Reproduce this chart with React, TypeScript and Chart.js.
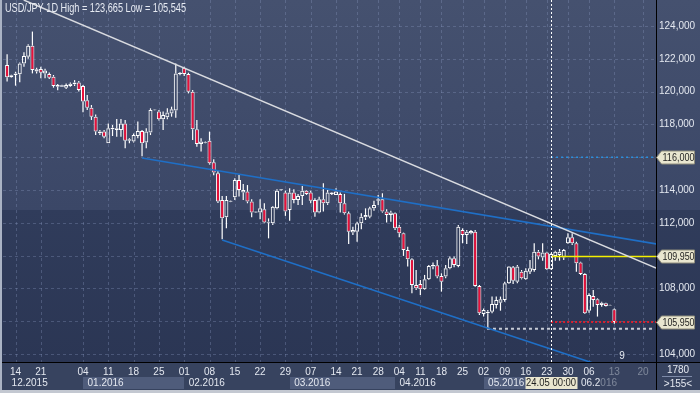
import React, { useEffect, useRef } from "react";
import { Chart, registerables } from "chart.js";

Chart.register(...registerables);

const FONT = "'Liberation Sans', Arial, sans-serif";

// ---- OHLC data (daily bars, index 0..144) ----
const opens = [
  121.62, 120.87, 121.01, 121.05, 121.72, 122.13, 122.8, 121.22, 121.38, 121.11,
  121.07, 120.91, 120.3, 120.3, 120.24, 120.34, 120.44, 120.56, 120.34, 119.47,
  119.02, 118.47, 117.46, 117.56, 116.85, 117.7, 117.66, 117.66, 118.06, 117.0,
  116.95, 117.29, 117.6, 116.89, 117.5, 118.86, 118.78, 118.31, 118.43, 118.67,
  118.84, 121.07, 121.46, 121.07, 119.99, 117.7, 116.8, 116.88, 117.0, 115.69,
  115.02, 113.39, 112.33, 113.28, 113.55, 114.61, 113.84, 113.9, 113.29, 112.62,
  112.62, 112.82, 112.0, 111.97, 112.88, 113.98, 113.84, 112.78, 113.84, 113.39,
  113.63, 113.96, 113.84, 113.39, 112.62, 113.43, 113.19, 113.76, 113.7, 113.76,
  113.19, 112.58, 111.4, 111.46, 111.97, 112.33, 112.37, 112.88, 113.35, 113.43,
  112.68, 112.48, 112.58, 111.76, 111.36, 110.34, 109.77, 108.21, 108.27, 107.94,
  108.55, 109.33, 109.41, 108.76, 108.72, 109.22, 109.83, 109.37, 111.56, 111.26,
  111.36, 111.46, 108.15, 106.44, 106.48, 106.58, 106.99, 107.13, 107.29, 108.31,
  109.29, 108.41, 109.02, 108.55, 109.02, 109.12, 110.24, 109.89, 110.18, 109.16,
  109.98, 110.04, 109.89, 110.75, 111.11, 110.75, 109.57, 108.88, 106.64, 107.54,
  107.33, 106.99, 107.09, 106.95, 106.72,
];
const highs = [
  122.27, 121.02, 121.21, 121.78, 122.4, 122.88, 123.66, 121.46, 121.52, 121.4,
  121.17, 121.01, 120.46, 120.42, 120.5, 120.56, 120.7, 120.65, 120.4, 119.79,
  119.18, 118.6, 117.66, 117.66, 118.06, 117.96, 118.33, 118.33, 118.27, 117.15,
  117.45, 118.17, 117.66, 117.76, 118.98, 118.92, 118.88, 118.78, 118.98, 119.08,
  121.72, 121.2, 121.52, 121.15, 120.1, 118.27, 117.15, 116.95, 117.56, 115.87,
  115.22, 113.63, 113.63, 113.36, 114.71, 114.91, 114.37, 114.3, 113.43, 112.7,
  113.43, 113.19, 112.27, 113.02, 114.04, 114.06, 113.96, 114.1, 114.04, 113.76,
  114.24, 114.0, 113.96, 113.49, 113.59, 114.41, 114.0, 113.88, 114.1, 113.84,
  113.76, 112.68, 111.76, 112.07, 112.58, 112.88, 112.98, 113.35, 113.7, 113.8,
  112.82, 112.74, 112.62, 111.86, 111.4, 110.54, 109.83, 109.12, 108.51, 108.82,
  109.43, 109.57, 109.73, 108.92, 109.43, 109.94, 109.94, 111.86, 111.66, 111.56,
  111.56, 111.56, 108.21, 106.78, 106.68, 107.5, 107.5, 107.5, 108.41, 109.37,
  109.37, 109.43, 109.12, 109.22, 109.73, 110.75, 110.34, 110.75, 110.24, 110.14,
  110.3, 110.4, 110.4, 111.36, 111.36, 110.85, 109.63, 108.92, 107.7, 107.9,
  107.39, 107.19, 107.13, 107.0, 106.78,
];
const lows = [
  120.61, 120.85, 120.36, 120.57, 121.52, 122.0, 121.11, 121.11, 120.81, 120.81,
  120.77, 120.24, 120.08, 120.28, 120.16, 120.3, 120.34, 120.0, 118.74, 118.88,
  118.27, 117.35, 117.35, 117.15, 116.85, 117.29, 117.25, 117.25, 116.54, 116.85,
  116.89, 117.15, 116.05, 116.54, 117.35, 118.84, 118.23, 117.66, 118.31, 118.47,
  118.41, 121.0, 120.95, 119.89, 117.05, 116.64, 116.34, 116.85, 115.55, 114.9,
  113.2, 110.99, 111.66, 113.26, 113.39, 113.6, 113.39, 113.19, 112.33, 112.6,
  112.21, 111.97, 111.05, 111.87, 112.82, 113.96, 112.42, 112.13, 113.19, 113.09,
  113.09, 113.7, 113.19, 112.37, 112.58, 112.68, 113.09, 113.7, 113.7, 112.62,
  112.5, 110.71, 111.26, 110.85, 111.6, 112.17, 112.27, 112.74, 113.09, 112.62,
  112.01, 112.07, 111.56, 111.11, 109.98, 109.33, 107.7, 107.9, 107.6, 107.9,
  108.51, 109.16, 108.61, 107.8, 108.61, 109.16, 109.29, 109.29, 110.75, 110.71,
  111.3, 108.1, 106.38, 106.28, 105.55, 106.48, 106.78, 106.64, 107.19, 108.27,
  108.27, 108.31, 108.55, 108.51, 108.88, 109.02, 109.77, 109.69, 109.12, 109.12,
  109.69, 109.69, 109.73, 110.71, 110.65, 109.02, 108.82, 106.44, 106.52, 106.88,
  106.28, 106.88, 106.9, 106.94, 105.85,
];
const closes = [
  120.87, 121.0, 121.11, 121.72, 122.17, 122.8, 121.32, 121.36, 121.15, 121.28,
  120.85, 120.34, 120.4, 120.38, 120.4, 120.48, 120.56, 120.1, 119.39, 119.02,
  118.47, 117.56, 117.56, 117.25, 117.76, 117.8, 117.76, 118.06, 117.0, 117.1,
  117.35, 117.6, 116.85, 117.56, 118.88, 118.9, 118.31, 118.57, 118.72, 118.92,
  121.11, 121.15, 121.07, 119.99, 117.7, 116.8, 116.95, 116.92, 115.63, 115.06,
  113.29, 112.27, 113.39, 113.34, 114.61, 114.0, 114.0, 113.29, 112.62, 112.68,
  112.88, 112.01, 112.07, 112.98, 113.96, 114.04, 112.68, 113.84, 113.39, 113.63,
  113.96, 113.76, 113.35, 112.62, 113.43, 113.19, 113.84, 113.84, 113.9, 113.19,
  112.58, 111.46, 111.56, 111.97, 112.37, 112.48, 112.88, 113.09, 113.43, 112.68,
  112.48, 112.62, 111.66, 111.36, 110.34, 109.77, 108.21, 108.0, 107.94, 108.55,
  109.37, 109.43, 108.72, 108.41, 109.22, 109.83, 109.43, 111.76, 111.26, 111.46,
  111.5, 108.15, 106.48, 106.68, 106.58, 107.05, 107.29, 107.33, 108.31, 109.33,
  108.47, 109.33, 108.61, 109.08, 109.22, 110.24, 109.94, 110.18, 109.16, 110.1,
  110.24, 110.24, 110.34, 111.11, 110.75, 109.53, 108.88, 106.48, 107.6, 107.29,
  106.99, 107.13, 106.93, 106.99, 105.95,
];

// ---- axis labels ----
const dayTickIndex = [2, 8, 18, 24, 30, 36, 42, 48, 54, 60, 66, 72, 78, 83, 88, 93, 98, 103, 108, 113, 118, 123, 128, 133, 138, 144, 150.8];
const dayTickText = ["14", "21", "04", "11", "18", "25", "01", "08", "15", "22", "29", "07", "14", "21", "28", "04", "11", "18", "25", "02", "09", "16", "23", "30", "06", "13", "20"];
const monthStartIndex = [0, 18, 42, 67, 92, 113, 135];
const monthText = ["12.2015", "01.2016", "02.2016", "03.2016", "04.2016", "05.2016", "06.2016"];
const monthShaded = [false, true, false, true, false, true, false];
const hiddenYTicks = [106, 110, 116];

// ---- drawn objects ----
const whiteTrend = [[3.94, 125.585], [153.9, 109.24]];
const upperChannel = [[32.0, 115.95], [153.9, 110.71]];
const lowerChannel = [[51.0, 110.95], [153.9, 102.17]];
const crossIndex = 129;
const crossLabel = "24.05 00:00";
const yellowLevel = 109.95;
const lastPrice = 105.95;
const blueLevel = 116.0;
const lowPrice = 105.545;
const lowIndex = 113.8;
const levelEnd = 153.9;
const priceTags = [116.0, 109.95, 105.95];
const titleText = "USD/JPY 1D High = 123,665 Low = 105,545";
const barsInfo = ["1780", ">155<"];
const timerText = "9";
const timerPos = [145.8, 103.85];

const X_MIN = -0.972;
const X_MAX = 153.88;
const Y_MIN = 103.51;
const Y_MAX = 125.585;

const RED = "#e8103a";
const WHITE = "#ffffff";

const fmt = (v: number) => v.toFixed(3).replace(".", ",");

function drawTag(ctx: CanvasRenderingContext2D, x0: number, y: number, text: string) {
  const h = 6.5;
  ctx.beginPath();
  ctx.moveTo(x0, y);
  ctx.lineTo(x0 + 5, y - h);
  ctx.lineTo(694.5, y - h);
  ctx.lineTo(694.5, y + h);
  ctx.lineTo(x0 + 5, y + h);
  ctx.closePath();
  ctx.fillStyle = "#e9e6cf";
  ctx.fill();
  ctx.strokeStyle = "#8f8d7c";
  ctx.lineWidth = 1;
  ctx.stroke();
  ctx.fillStyle = "#1e1e1e";
  ctx.textAlign = "left";
  ctx.textBaseline = "middle";
  ctx.font = `10px ${FONT}`;
  ctx.fillText(text, x0 + 6, y + 0.5, 32);
}

const decorPlugin = {
  id: "decor",
  beforeDraw(chart: any) {
    const { ctx, chartArea: a, width: W, height: H } = chart;
    const xs = chart.scales.x;
    const ys = chart.scales.y;
    ctx.save();
    ctx.fillStyle = "#37435f";
    ctx.fillRect(0, 0, W, H);
    const split = 210;
    let g = ctx.createLinearGradient(0, 0, 0, split);
    g.addColorStop(0, "#45516f");
    g.addColorStop(1, "#3b4767");
    ctx.fillStyle = g;
    ctx.fillRect(0, 0, W, split);
    g = ctx.createLinearGradient(0, split, 0, a.bottom);
    g.addColorStop(0, "#303c5b");
    g.addColorStop(1, "#2b3654");
    ctx.fillStyle = g;
    ctx.fillRect(0, split, W, a.bottom - split);

    // grid
    ctx.strokeStyle = "rgba(140,155,195,0.33)";
    ctx.lineWidth = 1;
    ctx.setLineDash([3, 3]);
    ys.ticks.forEach((t: any) => {
      const y = Math.round(ys.getPixelForValue(t.value)) + 0.5;
      ctx.beginPath();
      ctx.moveTo(a.left, y);
      ctx.lineTo(a.right, y);
      ctx.stroke();
    });
    dayTickIndex.forEach((i) => {
      const x = Math.round(xs.getPixelForValue(i)) + 0.5;
      if (x > a.right - 2) return;
      ctx.beginPath();
      ctx.moveTo(x, a.top);
      ctx.lineTo(x, a.bottom);
      ctx.stroke();
    });
    ctx.restore();
  },
  afterDatasetsDraw(chart: any) {
    const { ctx, chartArea: a } = chart;
    const xs = chart.scales.x;
    ctx.save();
    const x = Math.round(xs.getPixelForValue(crossIndex)) + 0.5;
    ctx.strokeStyle = "#ffffff";
    ctx.lineWidth = 1;
    ctx.setLineDash([2, 2]);
    ctx.beginPath();
    ctx.moveTo(x, a.top);
    ctx.lineTo(x, a.bottom);
    ctx.stroke();
    ctx.restore();
  },
  afterDraw(chart: any) {
    const { ctx, chartArea: a, width: W, height: H } = chart;
    const xs = chart.scales.x;
    const ys = chart.scales.y;
    ctx.save();

    // month boxes (second row)
    for (let k = 0; k < monthStartIndex.length; k++) {
      const x0 = xs.getPixelForValue(monthStartIndex[k]);
      const x1 = k + 1 < monthStartIndex.length ? xs.getPixelForValue(monthStartIndex[k + 1]) : a.right;
      if (monthShaded[k]) {
        ctx.fillStyle = "rgba(125,140,178,0.35)";
        ctx.fillRect(Math.round(x0), 377, Math.round(x1) - Math.round(x0), 12);
      }
    }
    ctx.font = `10px ${FONT}`;
    ctx.textBaseline = "middle";
    ctx.fillStyle = "#e4e8f0";
    ctx.textAlign = "left";
    for (let k = 0; k < monthStartIndex.length; k++) {
      const x0 = xs.getPixelForValue(monthStartIndex[k]);
      ctx.fillText(monthText[k], Math.max(x0 + 4.5, 11.5), 383.5);
    }
    ctx.textAlign = "center";
    dayTickIndex.forEach((i, k) => {
      ctx.fillText(dayTickText[k], xs.getPixelForValue(i), 372);
    });
    // dim future part of the time axis
    const fx = Math.round(xs.getPixelForValue(140.6));
    ctx.fillStyle = "rgba(55,67,95,0.6)";
    ctx.fillRect(fx, a.bottom + 1, a.right - fx, 28);

    // crosshair date tag
    const cx = xs.getPixelForValue(crossIndex);
    ctx.fillStyle = "#e9e6cf";
    ctx.fillRect(Math.round(cx - 26) + 0.5, 377, 52, 12);
    ctx.fillStyle = "#1e1e1e";
    ctx.textAlign = "center";
    ctx.fillText(crossLabel, cx, 383.5, 50);

    // frame lines
    ctx.strokeStyle = "#000000";
    ctx.lineWidth = 1;
    ctx.beginPath();
    ctx.moveTo(0, a.bottom + 0.5);
    ctx.lineTo(W, a.bottom + 0.5);
    ctx.moveTo(a.right + 0.5, 0);
    ctx.lineTo(a.right + 0.5, H);
    ctx.stroke();
    ctx.fillStyle = "#aab3c4";
    ctx.fillRect(0, 0, 2, H);
    ctx.fillStyle = "#c3c8d1";
    ctx.fillRect(0, 390, W, 3);

    // bars info corner
    ctx.fillStyle = "#e4e8f0";
    ctx.textAlign = "center";
    ctx.fillText(barsInfo[0], 678, 370);
    ctx.fillText(barsInfo[1], 678, 384);
    ctx.strokeStyle = "#7d8aa8";
    ctx.beginPath();
    ctx.moveTo(662, 376.5);
    ctx.lineTo(692, 376.5);
    ctx.stroke();

    // price tags
    priceTags.forEach((p) => {
      drawTag(ctx, a.right + 0.5, Math.round(ys.getPixelForValue(p)) + 0.5, fmt(p));
    });

    // timer text
    ctx.fillStyle = "#e8ecf2";
    ctx.textAlign = "center";
    ctx.textBaseline = "middle";
    ctx.fillText(timerText, xs.getPixelForValue(timerPos[0]), ys.getPixelForValue(timerPos[1]));

    // title
    ctx.font = `12px ${FONT}`;
    ctx.textAlign = "left";
    ctx.fillStyle = "#e6eaf2";
    ctx.fillText(titleText, 5, 8.5, 181);
    ctx.restore();
  },
};

export default function App() {
  const ref = useRef<HTMLCanvasElement | null>(null);
  useEffect(() => {
    if (!ref.current) return;
    const idx = opens.map((_, i) => i);
    const bodies = idx.map((i) => ({ x: i, y: [Math.min(opens[i], closes[i]), Math.max(opens[i], closes[i])] }));
    const upWicks = idx.map((i) => ({ x: i, y: [Math.max(opens[i], closes[i]), highs[i]] }));
    const loWicks = idx.map((i) => ({ x: i, y: [lows[i], Math.min(opens[i], closes[i])] }));
    const bodyColors = idx.map((i) => (closes[i] < opens[i] ? RED : "rgba(0,0,0,0)"));
    const pts = (arr: number[][]) => arr.map(([x, y]) => ({ x, y }));
    const lineDs = (data: any[], color: string, width: number, dash: number[] = []) => ({
      type: "line",
      data,
      borderColor: color,
      borderWidth: width,
      borderDash: dash,
      pointRadius: 0,
      fill: false,
      tension: 0,
      order: -1,
    });
    const chart = new Chart(ref.current, {
      type: "bar",
      data: {
        datasets: [
          {
            data: bodies,
            backgroundColor: bodyColors,
            borderColor: WHITE,
            borderWidth: 1,
            borderSkipped: false,
            barThickness: 4,
            grouped: false,
            inflateAmount: 0,
            order: 0,
          },
          {
            data: upWicks,
            backgroundColor: WHITE,
            borderWidth: 0,
            barThickness: 1.2,
            grouped: false,
            inflateAmount: 0,
            order: 1,
          },
          {
            data: loWicks,
            backgroundColor: WHITE,
            borderWidth: 0,
            barThickness: 1.2,
            grouped: false,
            inflateAmount: 0,
            order: 1,
          },
          lineDs(pts(whiteTrend), "#d9dbe0", 1.4),
          lineDs(pts(upperChannel), "#1f6fc6", 1.6),
          lineDs(pts(lowerChannel), "#1f6fc6", 1.6),
          lineDs([{ x: crossIndex, y: yellowLevel }, { x: levelEnd, y: yellowLevel }], "#f4f000", 1.5),
          lineDs([{ x: crossIndex, y: lastPrice }, { x: levelEnd, y: lastPrice }], "#d8202e", 2, [2, 2]),
          lineDs([{ x: crossIndex, y: blueLevel }, { x: levelEnd, y: blueLevel }], "#2a90e0", 1.5, [2, 3]),
          lineDs([{ x: lowIndex, y: lowPrice }, { x: levelEnd - 0.7, y: lowPrice }], "#c7ccd6", 2, [3, 3]),
        ] as any,
      },
      options: {
        responsive: false,
        animation: false,
        events: [],
        layout: { padding: { left: 3, top: 0, right: 0, bottom: 31 } },
        plugins: { legend: { display: false }, tooltip: { enabled: false } },
        scales: {
          x: { type: "linear", min: X_MIN, max: X_MAX, display: false, offset: false },
          y: {
            position: "right",
            min: Y_MIN,
            max: Y_MAX,
            grid: { display: false, drawTicks: false },
            border: { display: false },
            ticks: {
              stepSize: 2,
              includeBounds: false,
              padding: 3,
              color: "#e4e8f0",
              font: { family: FONT, size: 10 },
              callback: (v: any) => (hiddenYTicks.includes(Number(v)) ? "" : fmt(Number(v))),
            },
            afterFit: (s: any) => {
              s.width = 44;
              s.paddingTop = 0;
              s.paddingBottom = 0;
            },
          },
        },
      } as any,
      plugins: [decorPlugin],
    });
    return () => chart.destroy();
  }, []);
  return (
    <div style={{ position: "fixed", left: 0, top: 0, width: 700, height: 393 }}>
      <canvas ref={ref} width={700} height={393} style={{ display: "block" }} />
    </div>
  );
}
